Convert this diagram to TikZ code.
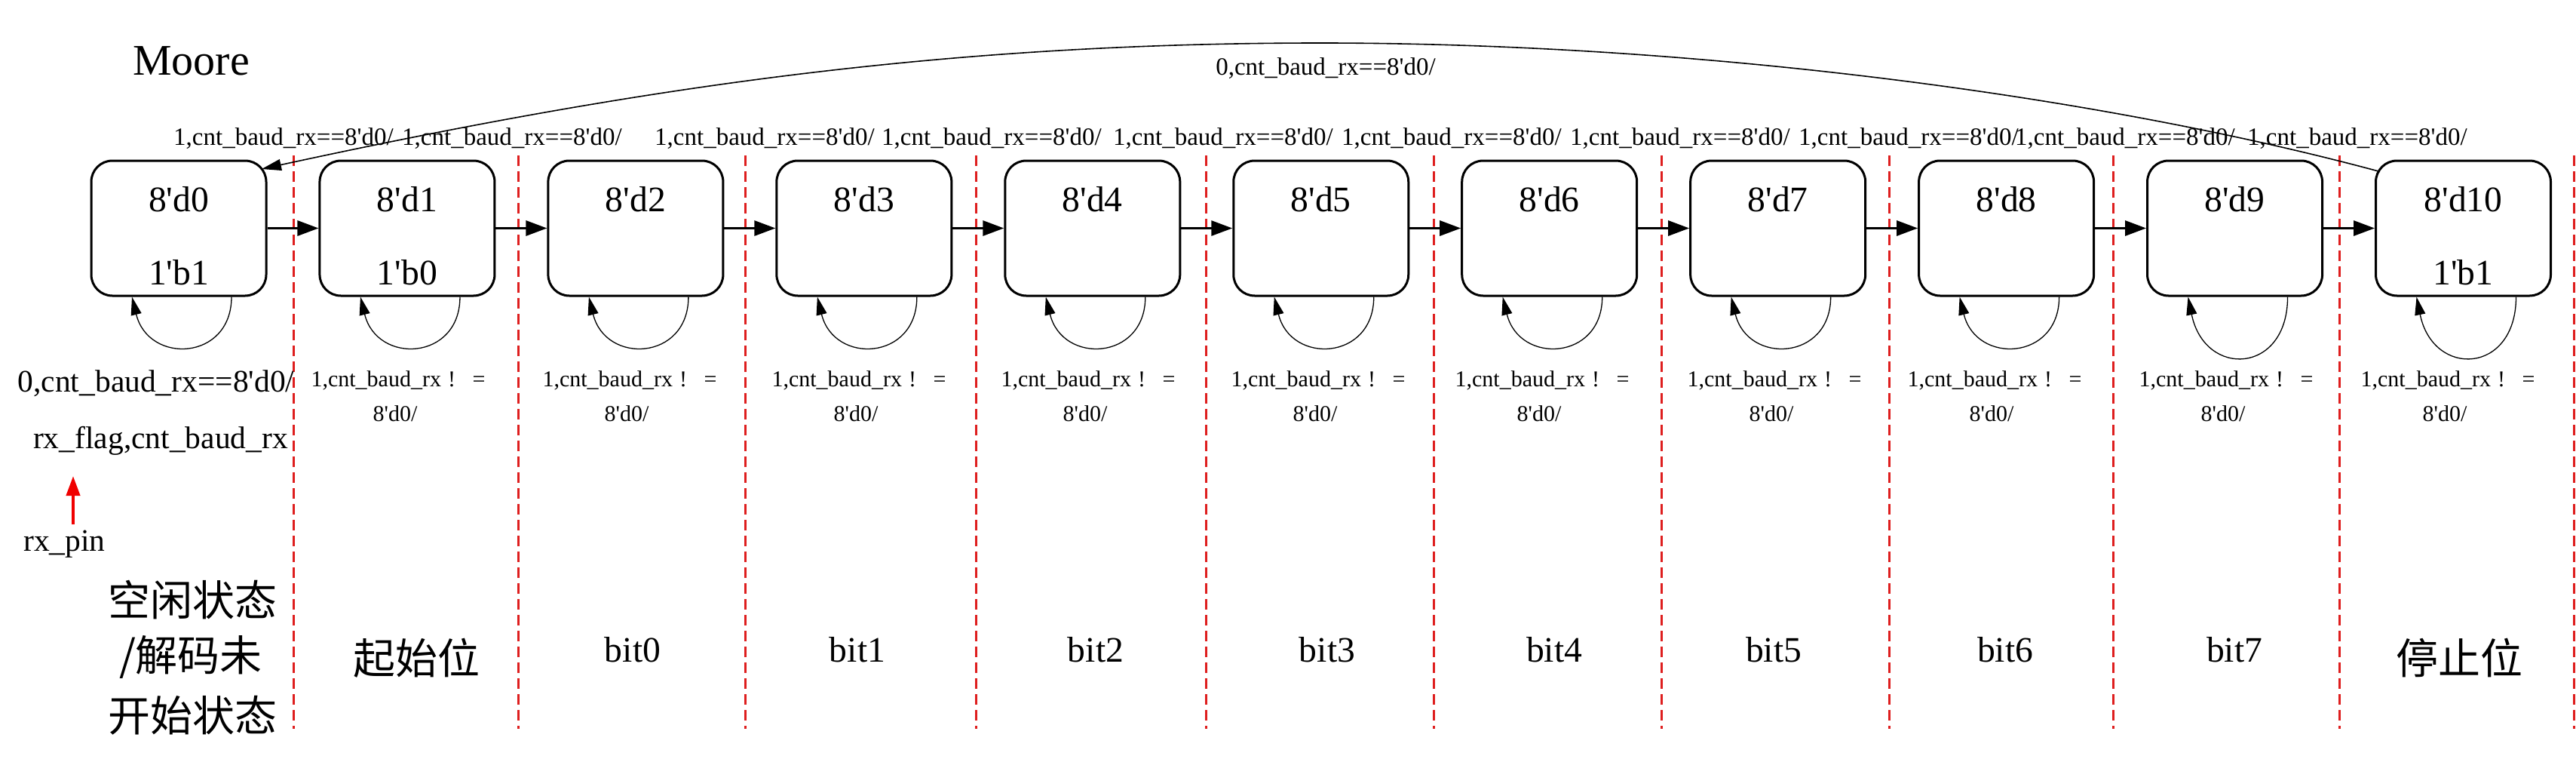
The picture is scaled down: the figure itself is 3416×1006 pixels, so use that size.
\documentclass[tikz,border=0pt]{standalone}
\usepackage{fontspec}
\newfontfamily\tnr{Liberation Serif}
\newfontfamily\cjk{Noto Sans CJK SC}
\usetikzlibrary{arrows.meta}
\definecolor{dashred}{RGB}{222,30,30}
\definecolor{pinred}{RGB}{240,0,0}
\begin{document}
\begin{tikzpicture}[x=1pt,y=-1pt,
  stbox/.style={draw, line width=3pt, rounded corners=28pt, minimum width=232pt, minimum height=179pt, inner sep=0pt},
  boxtxt/.style={font=\tnr\fontsize{47.6}{50}\selectfont, inner sep=0pt, anchor=base},
  toplbl/.style={font=\tnr\fontsize{33}{36}\selectfont, inner sep=0pt, anchor=base west},
  looplbl/.style={font=\tnr\fontsize{30}{32}\selectfont, inner sep=0pt, anchor=base},
  leftlbl/.style={font=\tnr\fontsize{41.5}{44}\selectfont, inner sep=0pt, anchor=base},
  cntxt/.style={font=\cjk\fontsize{56}{60}\selectfont, inner sep=0pt},
  trans/.style={line width=3pt, -{Triangle[length=28pt,width=20pt]}},
  selfloop/.style={line width=1.3pt, -{Triangle[length=24pt,width=14pt]}},
  bigarc/.style={line width=1.6pt, -{Triangle[length=26pt,width=15pt]}},
  sepline/.style={dashred, line width=3pt, dash pattern=on 14pt off 7pt},
  pinarrow/.style={pinred, line width=4pt, -{Triangle[length=26pt,width=18pt]}}]
\fill[white] (0,0) rectangle (3416,1006);
\useasboundingbox (0,0) rectangle (3416,1006);

% separators
\foreach \x in {389,687,988,1294,1599,1901,2203,2505,2802,3102,3413}
  \draw[sepline] (\x,206) -- (\x,966);

% title
\node[font=\tnr\fontsize{58}{60}\selectfont, inner sep=0pt, anchor=base] (moore) at (253.5,100) {Moore};

% states
\foreach \i in {0,...,10} {
  \node[stbox] (s\i) at ({237+302.95*\i},302.5) {};
  \node[boxtxt] (n\i) at ({237+302.95*\i},280) {8'd\i};
}
\node[boxtxt] (o0) at (237,377) {1'b1};
\node[boxtxt] (o1) at (539.95,377) {1'b0};
\node[boxtxt] (o10) at (3266.5,377) {1'b1};

% forward transitions
\foreach \i [evaluate=\i as \j using int(\i+1)] in {0,...,9}
  \draw[trans] (s\i) -- (s\j);

% top labels
\foreach \x [count=\k] in {233,536,871,1172,1479,1782,2085,2388,2675,2983}
  \node[toplbl] (t\k) at (\x-3,192) {1,cnt\_baud\_rx==8'd0/};

% self loops
\foreach \i/\d in {0/85,1/85,2/85,3/85,4/85,5/85,6/85,7/85,8/85,9/103,10/103}
  \draw[selfloop] ([xshift=70pt]s\i.south) .. controls +(0,\d) and +(22,{\d+5}) .. ([xshift=-62pt]s\i.south);

% loop labels
\node[leftlbl] (l0a) at (207,519) {0,cnt\_baud\_rx==8'd0/};
\node[leftlbl] (l0b) at (213,594) {rx\_flag,cnt\_baud\_rx};
\foreach \x [count=\k] in {528,835,1139,1443,1748,2045,2353,2645,2952,3246} {
  \node[looplbl] (la\k) at (\x,512) {1,cnt\_baud\_rx\hspace{0.3em}!\hspace{0.75em}=};
  \node[looplbl] (lb\k) at (\x-4,558) {8'd0/};
}

% return arc
\coordinate (peak) at (1751,57);
\draw[bigarc] ([shift={(7,16)}]s10.north west) .. controls (2780,126) and (2250,57) .. (peak)
   .. controls (1250,57) and (845,116) .. ([shift={(-7.5,12.5)}]s0.north east);
\node[toplbl, anchor=base] (arclbl) at (1758,100) {0,cnt\_baud\_rx==8'd0/};

% rx_pin
\node[leftlbl] (rxpin) at (85.5,730) {rx\_pin};
\coordinate (pinfoot) at (97,695);
\coordinate (pintip) at (97,631);
\draw[pinarrow] (pinfoot) -- (pintip);

% bottom phase labels
\node[cntxt] (c1) at (255,795) {空闲状态};
\node[cntxt] (c2) at (253,871) {/解码未};
\node[cntxt] (c3) at (255,948) {开始状态};
\node[cntxt] (c4) at (552,872) {起始位};
\foreach \x/\t [count=\k] in {839/bit0,1137/bit1,1453/bit2,1760/bit3,2061/bit4,2352/bit5,2659/bit6,2963/bit7}
  \node[boxtxt] (b\k) at (\x,877) {\t};
\node[cntxt] (c5) at (3261,872) {停止位};
\end{tikzpicture}
\end{document}
